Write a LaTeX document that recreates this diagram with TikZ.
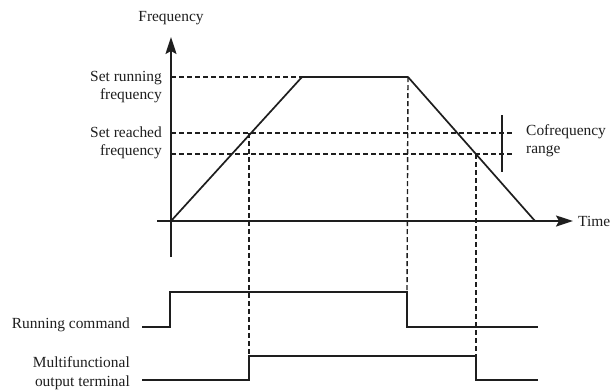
\documentclass[tikz,border=0pt]{standalone}
\usepackage{fontspec}
\setmainfont{Liberation Serif}
\usetikzlibrary{arrows.meta,positioning}
\definecolor{Ink}{HTML}{1E1E1E}

\begin{document}
\begin{tikzpicture}[x=1bp,y=-1bp,
    lbl/.style={font=\fontsize{15.5}{18.5}\selectfont,inner sep=0pt,text=Ink},
    sig/.style={draw=Ink,line width=1.7bp},
    guide/.style={draw=Ink,line width=1.4bp,dash pattern=on 5bp off 3bp},
    ax/.style={sig,-{Stealth[length=17bp,width=11bp,inset=3bp]}},node distance=9bp
  ]
    \useasboundingbox (0,0) rectangle (613,390);
    % axes
    \coordinate (yb) at (171,257); \coordinate (yt) at (171,37);
    \coordinate (xl) at (157,221); \coordinate (xt) at (573,221);
    \draw[ax] (yb) -- (yt); \draw[ax] (xl) -- (xt);
    \node[lbl,above=12bp of yt] (freq) {Frequency};
    \node[lbl,right=5bp of xt] (time) {Time};
    % speed profile
    \coordinate (o) at (171,221); \coordinate (up) at (302,77);
    \coordinate (dn) at (408,77); \coordinate (end) at (535,221);
    \draw[sig,line join=round] (o) -- (up) -- (dn) -- (end);
    % frequency levels
    \coordinate (fr) at (171,77); \coordinate (fa) at (171,133); \coordinate (fb) at (171,154);
    \coordinate (fa2) at (515,133); \coordinate (fb2) at (515,154);
    \draw[guide] (fr) -- (up); \draw[guide] (fa) -- (fa2); \draw[guide] (fb) -- (fb2);
    \node[lbl,align=right,left=9bp of fr,yshift=-10bp] (setrun) {Set running\\frequency};
    \node[lbl,align=right,left=9bp of fa,yshift=-10bp] (setreach) {Set reached\\frequency};
    \coordinate (bt) at (502,115); \coordinate (bb) at (502,172);
    \draw[sig,line width=1.3bp] (bt) -- (bb);
    \node[lbl,align=left,anchor=west] (cofreq) at (526,141) {Cofrequency\\range};
    % running command
    \coordinate (r0) at (142,327); \coordinate (r1) at (170,327); \coordinate (r2) at (170,292);
    \coordinate (r3) at (407,292); \coordinate (r4) at (407,327); \coordinate (r5) at (538,327);
    \draw[sig] (r0) -- (r1) -- (r2) -- (r3) -- (r4) -- (r5);
    \node[lbl,left=12bp of r0,yshift=2bp] (runcmd) {Running command};
    % output terminal
    \coordinate (m0) at (142,380); \coordinate (m1) at (249,380); \coordinate (m2) at (249,356);
    \coordinate (m3) at (476,356); \coordinate (m4) at (476,380); \coordinate (m5) at (538,380);
    \draw[sig] (m0) -- (m1) -- (m2) -- (m3) -- (m4) -- (m5);
    \node[lbl,align=right,left=12bp of m0,yshift=7bp] (multi) {Multifunctional\\output terminal};
    % switching instants
    \coordinate (ta) at (249,133); \coordinate (tb) at (476,154);
    \draw[guide] (ta) -- (m2); \draw[guide] (dn) -- (r3); \draw[guide] (tb) -- (m3);
\end{tikzpicture}
\end{document}
